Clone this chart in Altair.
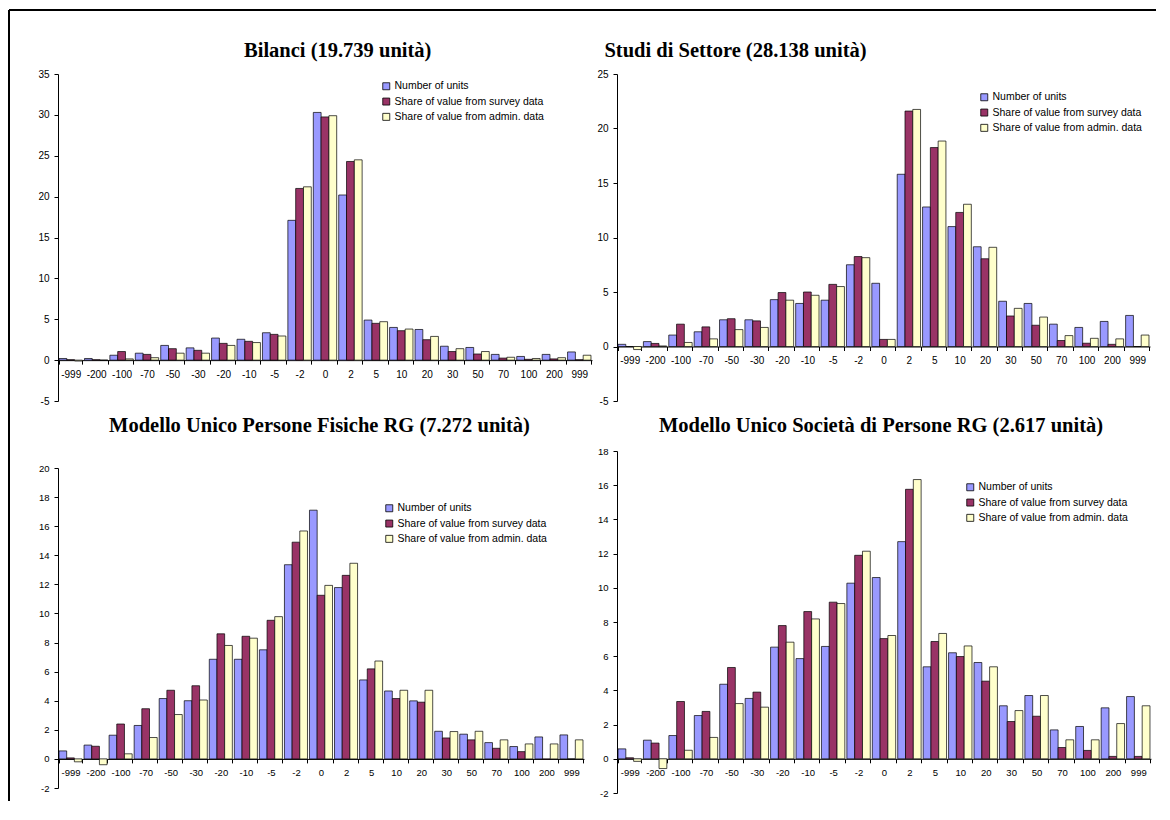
import altair as alt
import pandas as pd

categories = ["-999", "-200", "-100", "-70", "-50", "-30", "-20", "-10", "-5", "-2",
              "0", "2", "5", "10", "20", "30", "50", "70", "100", "200", "999"]
series_names = ["Number of units", "Share of value from survey data", "Share of value from admin. data"]
series_colors = ["#9999FF", "#993366", "#FFFFCC"]

# Bilanci (19.739 unità)
bil_units = [0.2, 0.2, 0.6, 0.85, 1.8, 1.5, 2.7, 2.55, 3.35, 17.1, 30.3, 20.2, 4.9, 4.0, 3.75, 1.7, 1.55, 0.7, 0.45, 0.7, 1.0]
bil_survey = [0.05, 0.05, 1.05, 0.7, 1.4, 1.2, 2.05, 2.3, 3.15, 21.0, 29.75, 24.3, 4.5, 3.6, 2.5, 1.05, 0.75, 0.25, 0.1, 0.15, 0.05]
bil_admin = [-0.1, 0.0, 0.15, 0.3, 0.85, 0.85, 1.8, 2.15, 2.95, 21.2, 29.9, 24.5, 4.7, 3.8, 2.9, 1.4, 1.05, 0.35, 0.2, 0.3, 0.6]

# Studi di Settore (28.138 unità)
sds_units = [0.2, 0.45, 1.05, 1.35, 2.45, 2.45, 4.3, 3.95, 4.25, 7.5, 5.8, 15.8, 12.8, 11.0, 9.15, 4.15, 3.95, 2.05, 1.75, 2.3, 2.85]
sds_survey = [0.0, 0.28, 2.05, 1.8, 2.55, 2.35, 4.95, 5.0, 5.7, 8.25, 0.65, 21.6, 18.25, 12.3, 8.05, 2.8, 1.95, 0.55, 0.3, 0.2, 0.0]
sds_admin = [-0.28, 0.05, 0.37, 0.7, 1.55, 1.75, 4.25, 4.7, 5.5, 8.15, 0.65, 21.75, 18.85, 13.05, 9.1, 3.5, 2.7, 1.0, 0.75, 0.7, 1.05]

# Modello Unico Persone Fisiche RG (7.272 unità)
pf_units = [0.55, 0.95, 1.63, 2.3, 4.15, 4.0, 6.85, 6.85, 7.5, 13.35, 17.1, 11.78, 5.43, 4.67, 3.99, 1.9, 1.7, 1.12, 0.85, 1.51, 1.65]
pf_survey = [0.07, 0.87, 2.4, 3.45, 4.72, 5.03, 8.6, 8.43, 9.53, 14.9, 11.25, 12.62, 6.19, 4.15, 3.9, 1.44, 1.31, 0.73, 0.5, -0.03, 0.0]
pf_admin = [-0.2, -0.4, 0.35, 1.47, 3.05, 4.05, 7.8, 8.3, 9.78, 15.67, 11.93, 13.45, 6.73, 4.72, 4.72, 1.88, 1.9, 1.31, 1.03, 1.03, 1.31]

# Modello Unico Società di Persone RG (2.617 unità)
sp_units = [0.58, 1.09, 1.36, 2.53, 4.36, 3.53, 6.53, 5.86, 6.57, 10.27, 10.6, 12.7, 5.38, 6.2, 5.63, 3.1, 3.7, 1.69, 1.89, 2.98, 3.64]
sp_survey = [0.06, 0.92, 3.35, 2.77, 5.34, 3.9, 7.79, 8.61, 9.16, 11.9, 7.03, 15.76, 6.86, 5.98, 4.54, 2.18, 2.49, 0.66, 0.49, 0.14, 0.14]
sp_admin = [-0.15, -0.57, 0.5, 1.25, 3.23, 3.02, 6.82, 8.18, 9.08, 12.14, 7.21, 16.33, 7.33, 6.6, 5.38, 2.82, 3.7, 1.11, 1.11, 2.06, 3.1]

titles = ["Bilanci (19.739 unità)", "Studi di Settore (28.138 unità)",
          "Modello Unico Persone Fisiche RG (7.272 unità)",
          "Modello Unico Società di Persone RG (2.617 unità)"]


def long_frame(units, survey, admin):
    rows = []
    for vals, name in zip([units, survey, admin], series_names):
        for c, v in zip(categories, vals):
            rows.append({"cat": c, "series": name, "val": v})
    return pd.DataFrame(rows)


one = pd.DataFrame({"k": [0]})


def rule(x, x2, y, y2, color="black", sw=2):
    return alt.Chart(one).mark_rule(color=color, strokeWidth=sw).encode(
        x=alt.value(x), x2=alt.value(x2), y=alt.value(y), y2=alt.value(y2))


def panel(units, survey, admin, ymin, ymax, step, w, h, title, tx, ty, lx, ly, fs, extras):
    df = long_frame(units, survey, admin)
    off = -h * (0 - ymin) / (ymax - ymin)
    bars = alt.Chart(df).mark_bar(stroke="black", strokeWidth=0.7).encode(
        x=alt.X("cat:N", sort=categories,
                scale=alt.Scale(paddingInner=0.08, paddingOuter=0.04),
                axis=alt.Axis(title=None, labelAngle=0, tickBand="extent", offset=off,
                              tickSize=4, labelPadding=5, grid=False,
                              domainColor="black", tickColor="black", labelColor="black",
                              labelFont="Liberation Sans", labelFontSize=fs)),
        xOffset=alt.XOffset("series:N", sort=series_names,
                            scale=alt.Scale(paddingInner=0, paddingOuter=0)),
        y=alt.Y("val:Q", scale=alt.Scale(domain=[ymin, ymax], nice=False),
                axis=alt.Axis(title=None, values=list(range(ymin, ymax + 1, step)), grid=False,
                              tickSize=4, labelPadding=5, domainColor="black", tickColor="black",
                              labelColor="black", labelFont="Liberation Sans", labelFontSize=fs,
                              labelExpr="'' + datum.value")),
        color=alt.Color("series:N", sort=series_names,
                        scale=alt.Scale(domain=series_names, range=series_colors),
                        legend=alt.Legend(title=None, orient="none", legendX=lx, legendY=ly,
                                          symbolType="square", symbolSize=49,
                                          symbolStrokeColor="black", symbolStrokeWidth=0.8,
                                          labelFont="Liberation Sans", labelFontSize=10.5,
                                          labelColor="black", labelOffset=3, rowPadding=4.3,
                                          padding=0)),
    )
    ttl = alt.Chart(pd.DataFrame({"t": [title]})).mark_text(
        font="Liberation Serif", fontWeight="bold", fontSize=20.5, align="center",
        baseline="middle", color="black").encode(x=alt.value(tx), y=alt.value(ty), text="t:N")
    return alt.layer(bars, ttl, *extras).properties(width=w, height=h)


# plot origins (page px): TL (59,75) TR (620,75) BL (59,469) BR (620,452)
tl = panel(bil_units, bil_survey, bil_admin, -5, 35, 5, 534, 327, titles[0], 279.7, -23.3, 323, 7, 10,
           [rule(-49, 538, -64, -64), rule(-49, -49, -64, 340)])
tr = panel(sds_units, sds_survey, sds_admin, -5, 25, 5, 533, 327, titles[1], 118.5, -23.3, 362, 18, 10,
           [rule(-25, 539, -64, -64), rule(-22, -22, 339.5, 340.5, color="white", sw=1)])
bl = panel(pf_units, pf_survey, pf_admin, -2, 20, 2, 526, 320, titles[2], 261.5, -42.3, 326, 35, 9.5,
           [rule(-49, -49, -60, 333)])
br = panel(sp_units, sp_survey, sp_admin, -2, 18, 2, 534, 342, titles[3], 264, -25.3, 348, 31, 9.5,
           [rule(-22, -22, -39.5, -40.5, color="white", sw=1)])

res = dict(x="independent", y="independent", color="independent", xOffset="independent")
col1 = alt.vconcat(tl, bl, spacing=-8).resolve_scale(**res).resolve_legend(color="independent")
col2 = alt.vconcat(tr, br, spacing=-5).resolve_scale(**res).resolve_legend(color="independent")
chart = alt.hconcat(col1, col2, spacing=-6).resolve_scale(**res).resolve_legend(
    color="independent").configure_view(stroke=None).properties(
    padding={"left": 0, "top": 1, "right": 0, "bottom": 0}, background="white")

chart.save("out.html", embed_options={"renderer": "svg", "actions": False})
